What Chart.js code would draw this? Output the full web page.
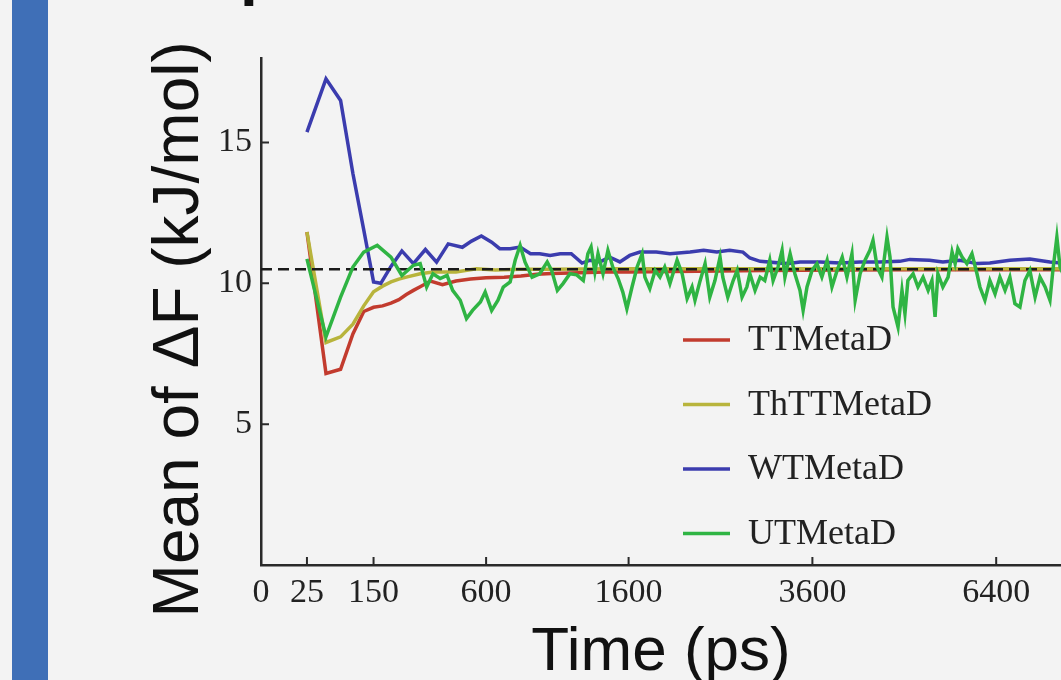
<!DOCTYPE html>
<html>
<head>
<meta charset="utf-8">
<script src="https://cdn.jsdelivr.net/npm/chart.js@4.4.1/dist/chart.umd.min.js"></script>
<style>
  html, body { margin: 0; padding: 0; background: #f3f3f3; overflow: hidden; }
  #wrap { position: relative; width: 1061px; height: 680px; }
  #bar { position: absolute; left: 12px; top: 0; width: 36px; height: 680px; background: #3f6fb7; }
  #chart { position: absolute; left: 0; top: 0; }
</style>
</head>
<body>
<div id="wrap">
  <div id="bar"></div>
  <canvas id="chart" width="1061" height="680"></canvas>
</div>
<script>
  // ─── Data (time in ps, mean ΔF in kJ/mol) ─────────────────────────────────

  const X_TICKS = [0, 25, 150, 600, 1600, 3600, 6400];
  const Y_TICKS = [5, 10, 15];
  const REF_LEVEL = 10.5;          // dashed reference line
  const REF_TIME = [0, 7600];

  const TT_TIME = [25, 50, 75, 100, 125, 150, 175, 200, 225, 250, 275, 300, 340, 390, 450, 520,
    600, 700, 800, 900, 1000, 1200, 1400, 1600, 2000, 2500, 3000, 4000, 5000, 6000, 7000, 7600];
  const TT_VALUES = [11.82, 6.8, 6.95, 8.2, 9.0, 9.15, 9.2, 9.3, 9.42, 9.6, 9.75, 9.88, 10.08, 9.95, 10.08, 10.15,
    10.2, 10.22, 10.26, 10.32, 10.35, 10.38, 10.4, 10.4, 10.42, 10.44, 10.46, 10.47, 10.48, 10.48, 10.48, 10.48];

  const THTT_TIME = [25, 50, 75, 100, 125, 150, 175, 200, 225, 250, 300, 350, 450, 550, 650,
    800, 1000, 1500, 2000, 3000, 4000, 5000, 6000, 7000, 7600];
  const THTT_VALUES = [11.82, 7.9, 8.1, 8.55, 9.2, 9.7, 9.9, 10.05, 10.15, 10.22, 10.34, 10.4, 10.4, 10.52, 10.47,
    10.5, 10.5, 10.52, 10.52, 10.52, 10.52, 10.52, 10.52, 10.52, 10.52];

  const WT_TIME = [25, 50, 75, 100, 125, 150, 170, 200, 235, 275, 320, 365, 415, 480, 525,
    575, 630, 675, 735, 795, 860, 920, 990, 1060, 1140, 1220, 1280, 1360, 1440, 1525,
    1610, 1700, 1850, 1980, 2180, 2320, 2460, 2600, 2750, 2830, 2950, 3275, 3440, 3700, 3970,
    4250, 4530, 4830, 4985, 5290, 5505, 5780, 6070, 6290, 6640, 7000, 7370, 7600];
  const WT_VALUES = [15.37, 17.26, 16.49, 13.9, 11.9, 10.05, 10.0, 10.6, 11.15, 10.7, 11.2, 10.75, 11.4, 11.28, 11.5,
    11.68, 11.46, 11.23, 11.23, 11.29, 11.05, 11.05, 10.99, 11.05, 11.05, 10.72, 10.82, 10.76, 10.93, 10.76,
    10.99, 11.11, 11.11, 11.05, 11.11, 11.17, 11.11, 11.17, 11.11, 10.9, 10.78, 10.7, 10.76, 10.76, 10.72,
    10.76, 10.76, 10.78, 10.85, 10.82, 10.76, 10.82, 10.7, 10.72, 10.82, 10.86, 10.76, 10.72];

  const UT_TIME = [25, 50, 75, 100, 125, 160, 200, 235, 275, 300, 325, 350, 380, 410, 435, 470, 500, 530, 570, 595,
    630, 665, 695, 735, 765, 795, 825, 870, 920, 970, 1000, 1040, 1080, 1130, 1180, 1230, 1265, 1290, 1320, 1345,
    1385, 1425, 1465, 1510, 1550, 1585, 1630, 1675, 1720, 1745, 1790, 1840, 1885, 1930, 1980, 2050, 2100, 2150, 2200, 2230,
    2280, 2335, 2385, 2440, 2495, 2525, 2580, 2640, 2685, 2740, 2795, 2830, 2890, 2950, 3005, 3065, 3105, 3165, 3215, 3250,
    3315, 3375, 3440, 3480, 3530, 3595, 3660, 3725, 3795, 3860, 3930, 4000, 4065, 4135, 4180, 4250, 4320, 4390, 4435, 4495,
    4565, 4640, 4685, 4730, 4805, 4865, 4910, 4955, 5035, 5110, 5190, 5270, 5330, 5380, 5425, 5505, 5590, 5655, 5705, 5750,
    5820, 5900, 5985, 6070, 6120, 6205, 6290, 6380, 6465, 6555, 6640, 6730, 6820, 6910, 7000, 7095, 7185, 7280, 7370, 7425,
    7500, 7560, 7650];
  const UT_VALUES = [10.87, 8.1, 9.51, 10.58, 11.11, 11.35, 10.93, 10.28, 10.64, 10.7, 9.87, 10.34, 10.17, 10.28, 9.75, 9.4, 8.75, 9.04, 9.34, 9.69,
    9.04, 9.4, 9.87, 10.05, 10.82, 11.35, 10.76, 10.22, 10.34, 10.76, 10.46, 9.75, 9.99, 10.34, 10.3, 10.1, 11.05, 11.29, 10.4, 11.05,
    10.34, 11.17, 10.58, 10.17, 9.69, 9.1, 9.87, 10.58, 11.05, 10.22, 9.81, 10.46, 10.22, 10.58, 9.99, 10.82, 10.34, 9.46, 9.87, 9.4,
    10.05, 10.7, 9.51, 10.1, 10.93, 10.22, 9.51, 10.1, 10.46, 9.51, 9.87, 10.34, 9.75, 10.22, 10.1, 10.82, 10.1, 10.58, 11.17, 10.22,
    11.05, 10.34, 9.75, 9.04, 9.87, 10.46, 10.7, 10.22, 10.82, 9.87, 10.46, 10.93, 10.22, 11.05, 9.4, 10.34, 10.82, 11.17, 11.52, 10.58,
    10.22, 11.64, 10.93, 9.16, 8.45, 9.75, 8.92, 10.1, 10.34, 9.87, 10.22, 9.75, 10.1, 8.81, 10.34, 9.87, 10.22, 11.11, 10.7, 11.23,
    10.93, 10.7, 11.05, 10.34, 9.87, 9.4, 10.1, 9.63, 10.22, 9.75, 10.22, 9.28, 9.16, 10.1, 10.46, 9.51, 10.22, 9.87, 9.4, 10.46,
    11.64, 10.58, 10.2];

  const X_MAX = 7578;
  const Y_MAX = 18;

  // ─── Square-root time axis ────────────────────────────────────────────────

  class SqrtScale extends Chart.LinearScale {
    buildTicks() {
      return X_TICKS.map(function (v) { return { value: v }; });
    }
    configure() {
      super.configure();
      this._sqrtMin = Math.sqrt(Math.max(this.min, 0));
      this._sqrtRange = Math.sqrt(this.max) - this._sqrtMin;
    }
    getPixelForValue(value) {
      if (value == null || isNaN(value)) return NaN;
      return this.getPixelForDecimal((Math.sqrt(Math.max(value, 0)) - this._sqrtMin) / this._sqrtRange);
    }
    getValueForPixel(pixel) {
      const s = this._sqrtMin + this.getDecimalForPixel(pixel) * this._sqrtRange;
      return s * s;
    }
  }
  SqrtScale.id = 'sqrt';
  SqrtScale.defaults = {};
  Chart.register(SqrtScale);

  function pairs(times, values) {
    return times.map(function (t, i) { return { x: t, y: values[i] }; });
  }

  // ─── Plugins ──────────────────────────────────────────────────────────────

  // short tick marks pointing into the plot
  const innerTicks = {
    id: 'innerTicks',
    afterDraw(chart) {
      const { ctx, chartArea, scales } = chart;
      ctx.save();
      ctx.strokeStyle = '#2a2a2a';
      ctx.lineWidth = 2;
      ctx.beginPath();
      scales.x.ticks.forEach(function (t) {
        if (t.value === 0) return;
        const px = scales.x.getPixelForValue(t.value);
        ctx.moveTo(px, chartArea.bottom);
        ctx.lineTo(px, chartArea.bottom - 8);
      });
      scales.y.ticks.forEach(function (t) {
        const py = scales.y.getPixelForValue(t.value);
        ctx.moveTo(chartArea.left, py);
        ctx.lineTo(chartArea.left + 8, py);
      });
      ctx.stroke();
      ctx.restore();
    }
  };

  // legend drawn inside the plot, lower middle
  const insideLegend = {
    id: 'insideLegend',
    afterDraw(chart) {
      const { ctx, chartArea } = chart;
      const items = chart.data.datasets.filter(function (d) { return d.inLegend; });
      ctx.save();
      ctx.font = '36px "Liberation Serif"';
      ctx.textBaseline = 'middle';
      ctx.fillStyle = '#222';
      items.forEach(function (d, i) {
        const y = chartArea.top + 282 + i * 64.5;
        const x0 = chartArea.left + 422;
        ctx.strokeStyle = d.borderColor;
        ctx.lineWidth = 3.5;
        ctx.beginPath();
        ctx.moveTo(x0, y);
        ctx.lineTo(x0 + 47, y);
        ctx.stroke();
        ctx.fillText(d.label, x0 + 65, y + 1);
      });
      // cut-off heading glyph at the top edge
      ctx.font = 'bold 64px "Liberation Sans"';
      ctx.textBaseline = 'alphabetic';
      ctx.fillStyle = '#111';
      ctx.fillText('p', 240, -7);
      ctx.restore();
    }
  };

  // ─── Chart ────────────────────────────────────────────────────────────────

  const lineBase = { borderWidth: 3.5, pointRadius: 0, tension: 0, fill: false };

  new Chart(document.getElementById('chart'), {
    type: 'line',
    data: {
      datasets: [
        Object.assign({ label: 'TTMetaD', data: pairs(TT_TIME, TT_VALUES), borderColor: '#c23b2e', order: 4, inLegend: true }, lineBase),
        Object.assign({ label: 'ThTTMetaD', data: pairs(THTT_TIME, THTT_VALUES), borderColor: '#b8b43c', order: 3, inLegend: true }, lineBase),
        Object.assign({ label: 'WTMetaD', data: pairs(WT_TIME, WT_VALUES), borderColor: '#3b3cae', order: 2, inLegend: true }, lineBase),
        Object.assign({ label: 'UTMetaD', data: pairs(UT_TIME, UT_VALUES), borderColor: '#2fb443', order: 0, inLegend: true }, lineBase),
        Object.assign({ label: 'reference', data: REF_TIME.map(function (t) { return { x: t, y: REF_LEVEL }; }),
          borderColor: '#1a1a1a', order: 1, inLegend: false }, lineBase, { borderWidth: 2.5, borderDash: [11, 6] })
      ]
    },
    options: {
      responsive: false,
      animation: false,
      parsing: false,
      layout: { padding: { top: 58, left: 0, right: 0, bottom: 0 } },
      plugins: { legend: { display: false }, tooltip: { enabled: false } },
      scales: {
        x: {
          type: 'sqrt',
          min: 0,
          max: X_MAX,
          afterFit: function (scale) { scale.height = 115; },
          grid: { display: false, drawTicks: false },
          border: { display: true, color: '#2a2a2a', width: 2.5 },
          ticks: {
            autoSkip: false,
            maxRotation: 0,
            padding: 8,
            color: '#222',
            font: { family: 'Liberation Serif', size: 34 },
            callback: function (v) { return String(v); }
          },
          title: {
            display: true,
            text: 'Time (ps)',
            color: '#111',
            font: { family: 'Liberation Sans', size: 62, lineHeight: 0.88 },
            padding: { top: 0, bottom: 0 }
          }
        },
        y: {
          type: 'linear',
          min: 0,
          max: Y_MAX,
          afterBuildTicks: function (scale) { scale.ticks = Y_TICKS.map(function (v) { return { value: v }; }); },
          afterFit: function (scale) { scale.width = 261; },
          grid: { display: false, drawTicks: false },
          border: { display: true, color: '#2a2a2a', width: 2.5 },
          ticks: {
            padding: 9,
            color: '#222',
            font: { family: 'Liberation Serif', size: 34 }
          },
          title: {
            display: true,
            // trailing spaces nudge the centred label down to where the original sits
            text: 'Mean of \u0394F (kJ/mol)  ',
            color: '#111',
            font: { family: 'Liberation Sans', size: 64, lineHeight: 1 },
            padding: { top: 148, bottom: 0 }
          }
        }
      }
    },
    plugins: [innerTicks, insideLegend]
  });
</script>
</body>
</html>
